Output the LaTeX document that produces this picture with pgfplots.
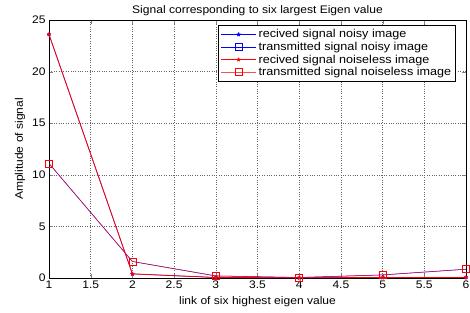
\documentclass[border=0pt]{standalone}
\usepackage{pgfplots}
\pgfplotsset{compat=1.18}
\usepackage{fontspec}
\setmainfont{Liberation Sans}
\newfontfamily\wide[FakeStretch=1.1]{Liberation Sans}
\begin{document}
\begin{tikzpicture}
\begin{axis}[
  scale only axis, width=417bp, height=258bp,
  xmin=1, xmax=6, ymin=0, ymax=25,
  xtick={1,1.5,...,6}, ytick={0,5,...,25},
  xticklabels={1,1.5,2,2.5,3,3.5,4,4.5,5,5.5,6},
  /pgf/number format/assume math mode=true,
  tick label style={font=\wide\fontsize{11}{12}\selectfont},
  xticklabel style={yshift=1bp},
  tick align=inside, major tick length=4bp,
  axis line style={black, line width=1pt},
  grid=major, major grid style={gray!80!black, dotted, line width=0.6pt},
  title={Signal corresponding to six largest Eigen value},
  title style={font=\wide\fontsize{11}{12}\selectfont, yshift=-5bp},
  xlabel={link of six highest eigen value},
  ylabel={Amplitude of signal},
  label style={font=\wide\fontsize{11}{12}\selectfont},
  xlabel style={yshift=-1bp},
  ylabel style={yshift=0bp},
  legend style={at={(0.975,0.98)}, anchor=north east, font=\wide\fontsize{11.5}{13}\selectfont, draw=black, line width=0.8pt, row sep=-1.2pt, inner sep=2pt},
  legend cell align=left,
  legend image code/.code={\draw[mark repeat=2,mark phase=2,#1] plot coordinates {(0cm,0cm) (0.62cm,0cm) (1.24cm,0cm)};},
]
\addplot[blue, line width=0.5pt, mark=star, mark size=2bp, mark options={solid,line width=1pt}] coordinates {(1,23.6) (2,0.4) (3,0.05) (4,0.02) (5,0.05) (6,0.05)};
\addlegendentry{recived signal noisy image}
\addplot[blue, line width=0.5pt, mark=square, mark size=3.5bp, mark options={solid}] coordinates {(1,11.1) (2,1.6) (3,0.2) (4,0.05) (5,0.3) (6,0.85)};
\addlegendentry{transmitted signal noisy image}
\addplot[red, line width=0.8pt, mark=star, mark size=2bp, mark options={solid,line width=1pt}] coordinates {(1,23.6) (2,0.4) (3,0.05) (4,0.02) (5,0.05) (6,0.05)};
\addlegendentry{recived signal noiseless image}
\addplot[red, opacity=0.7, line width=0.6pt, mark=square, mark size=3.5bp, mark options={solid, opacity=1}] coordinates {(1,11.1) (2,1.6) (3,0.2) (4,0.05) (5,0.3) (6,0.85)};
\addlegendentry{transmitted signal noiseless image}
\end{axis}
\pgfresetboundingbox
\path (current axis.south west) ++(-49bp,-34bp) coordinate (bl);
\path (current axis.north east) ++(4bp,20bp) coordinate (tr);
\path (bl) rectangle (tr);
\end{tikzpicture}
\end{document}
